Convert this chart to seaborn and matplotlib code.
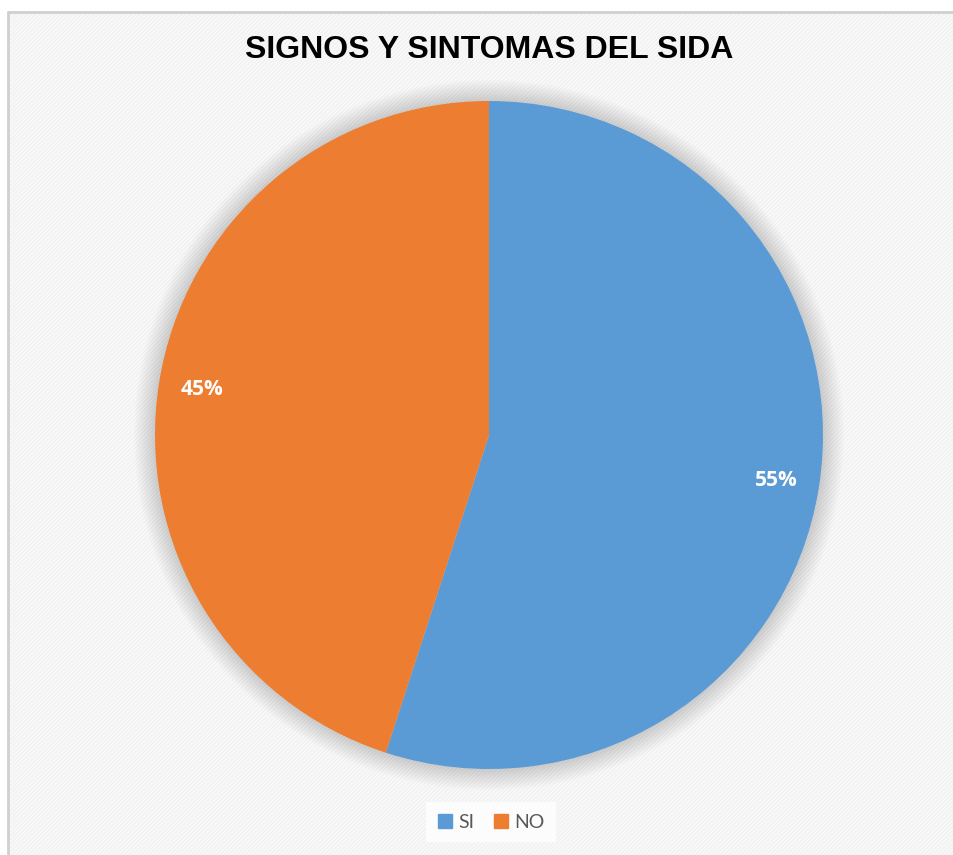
#!/usr/bin/env python3

import matplotlib.pyplot as plt
import matplotlib.patches as mpatches
import seaborn as sns

sns.set_theme(style="white")
plt.rcParams["hatch.linewidth"] = 1.5

labels = ["SI", "NO"]
values = [55, 45]
pal = sns.color_palette(["#5B9BD5", "#ED7D31"])

TITLE = "SIGNOS Y SINTOMAS DEL SIDA"

W, H = 954, 855
fig = plt.figure(figsize=(W / 100, H / 100), dpi=100)
fig.patch.set_facecolor("white")

# hatched chart area with light border on top / left
bg = mpatches.Rectangle(
    (8 / W, 0), 1, 1 - 12 / H, transform=fig.transFigure,
    facecolor="#fdfdfd", edgecolor="#f2f2f2", linewidth=0, hatch="/" * 8, zorder=-5,
)
fig.add_artist(bg)
fig.add_artist(plt.Line2D([8 / W, 1], [1 - 12 / H, 1 - 12 / H], color="#d0d0d0", lw=2, zorder=-4))
fig.add_artist(plt.Line2D([8 / W, 8 / W], [0, 1 - 12 / H], color="#d0d0d0", lw=2, zorder=-4))

cx, cy, r = 489, 435, 334
ax = fig.add_axes([(cx - r) / W, (H - cy - r) / H, 2 * r / W, 2 * r / H])
ax.set_facecolor("none")
ax.set_zorder(1)

# soft shadow around pie
for i in range(14):
    ax.add_patch(mpatches.Circle((0, 0), 1 + 0.0045 * (14 - i), color="#000000",
                                 alpha=0.01, lw=0, zorder=0, clip_on=False))

wedges, _, autotexts = ax.pie(
    values, colors=pal, startangle=90, counterclock=False,
    autopct="%d%%", pctdistance=0.87, radius=1,
    wedgeprops=dict(edgecolor="none", linewidth=0),
    textprops=dict(color="white", fontsize=15, fontweight="bold",
                   family=["Open Sans", "DejaVu Sans"]),
)
for w in wedges:
    w.set_zorder(2)
for t in autotexts:
    t.set_zorder(3)
ax.set_xlim(-1, 1)
ax.set_ylim(-1, 1)
ax.set_aspect("auto")
ax.axis("off")

fig.text(489 / W, 1 - 50 / H, TITLE, ha="center", va="center", fontsize=23,
         fontweight="bold", family=["Liberation Sans", "DejaVu Sans"], color="black")

handles = [mpatches.Patch(color=c, label=l) for c, l in zip(pal, labels)]
leg = fig.legend(
    handles=handles, loc="center", bbox_to_anchor=(491 / W, 1 - 822 / H), ncol=2,
    frameon=True, fancybox=False, handlelength=0.75, handleheight=0.75,
    handletextpad=0.3, columnspacing=1.0, borderpad=0.6,
    prop={"family": ["Lato", "DejaVu Sans"], "size": 14},
)
leg.get_frame().set_facecolor("white")
leg.get_frame().set_edgecolor("none")
for t in leg.get_texts():
    t.set_color("#595959")

plt.savefig("out.png", dpi=100)
